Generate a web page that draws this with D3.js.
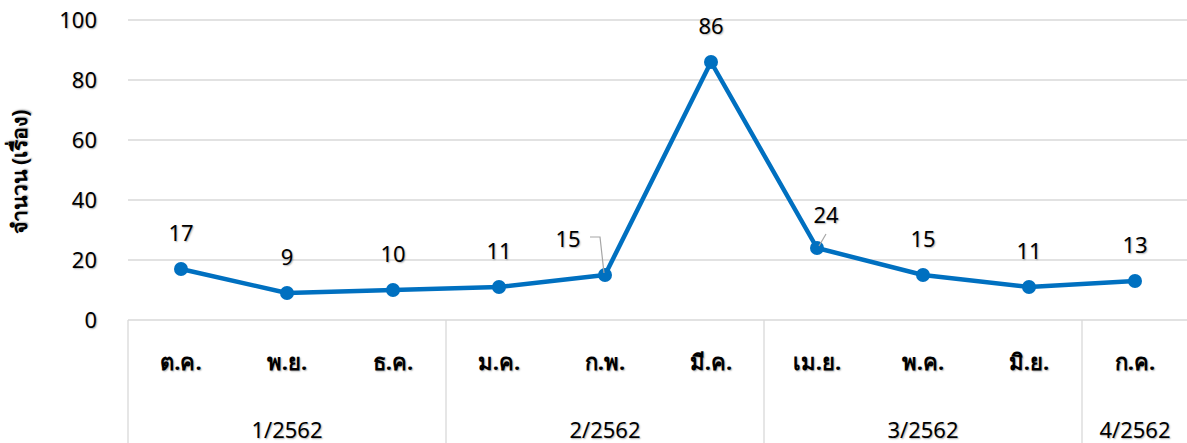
<!DOCTYPE html>
<html>
<head>
<meta charset="utf-8">
<script src="https://cdn.jsdelivr.net/npm/d3@7"></script>
<style>
  body { margin: 0; background: #fff; }
  text { font-family: Tahoma, "Noto Sans", "DejaVu Sans", sans-serif; fill: #000; text-shadow: 1px 1px 1.5px rgba(0,0,0,0.3); }
</style>
</head>
<body>
<div id="vis"></div>
<script>
const months = ["ต.ค.", "พ.ย.", "ธ.ค.", "ม.ค.", "ก.พ.", "มี.ค.", "เม.ย.", "พ.ค.", "มิ.ย.", "ก.ค."];
const quarters = ["1/2562", "1/2562", "1/2562", "2/2562", "2/2562", "2/2562", "3/2562", "3/2562", "3/2562", "4/2562"];
const counts = [17, 9, 10, 11, 15, 86, 24, 15, 11, 13];
const yTicks = [0, 20, 40, 60, 80, 100];

const W = 1187, H = 443;
const margin = { top: 20, right: -1, bottom: 123, left: 128 };
const width = W - margin.left - margin.right;
const height = H - margin.top - margin.bottom;

const svg = d3.select("#vis")
  .append("svg")
  .attr("width", W)
  .attr("height", H);

const g = svg.append("g")
  .attr("transform", `translate(${margin.left},${margin.top})`);

const x = d3.scaleBand()
  .domain(d3.range(months.length))
  .range([0, width]);

const y = d3.scaleLinear().domain([0, 100]).range([height, 0]);

// GRIDLINES
g.append("g")
  .selectAll("line")
  .data(yTicks)
  .enter()
  .append("line")
  .attr("x1", 0)
  .attr("x2", width)
  .attr("y1", d => y(d))
  .attr("y2", d => y(d))
  .attr("stroke", "#d9d9d9")
  .attr("stroke-width", 1.3);

// Y TICK LABELS
g.append("g")
  .selectAll("text")
  .data(yTicks)
  .enter()
  .append("text")
  .attr("x", -31)
  .attr("y", d => y(d))
  .attr("dy", "0.35em")
  .attr("text-anchor", "end")
  .attr("font-size", "22px")
  .text(d => d);

// Y TITLE
svg.append("text")
  .attr("transform", `translate(20, 172) rotate(-90)`)
  .attr("text-anchor", "middle")
  .attr("dy", "0.35em")
  .attr("font-size", "21px")
  .attr("font-weight", "bold")
  .text("จำนวน (เรื่อง)");

// CATEGORY AXIS
const groups = [];
quarters.forEach((q, i) => {
  const last = groups[groups.length - 1];
  if (last && last.name === q) last.end = i;
  else groups.push({ name: q, start: i, end: i });
});

const axis = g.append("g").attr("transform", `translate(0,${height})`);

const bounds = [0, ...groups.map(d => d.end + 1)];
axis.selectAll("line.sep")
  .data(bounds)
  .enter()
  .append("line")
  .attr("class", "sep")
  .attr("x1", d => d < months.length ? x(d) : width)
  .attr("x2", d => d < months.length ? x(d) : width)
  .attr("y1", 0)
  .attr("y2", H - margin.top - height)
  .attr("stroke", "#d9d9d9")
  .attr("stroke-width", 1.3);

axis.selectAll("text.month")
  .data(months)
  .enter()
  .append("text")
  .attr("class", "month")
  .attr("x", (d, i) => x(i) + x.bandwidth() / 2)
  .attr("y", 42)
  .attr("dy", "0.35em")
  .attr("text-anchor", "middle")
  .attr("font-size", "22px")
  .attr("font-weight", "bold")
  .text(d => d);

axis.selectAll("text.group")
  .data(groups)
  .enter()
  .append("text")
  .attr("class", "group")
  .attr("x", d => (x(d.start) + x(d.end) + x.bandwidth()) / 2)
  .attr("y", 110)
  .attr("dy", "0.35em")
  .attr("text-anchor", "middle")
  .attr("font-size", "22px")
  .text(d => d.name);

// LINE
const cx = i => x(i) + x.bandwidth() / 2;
const line = d3.line()
  .x((d, i) => cx(i))
  .y(d => y(d));

g.append("path")
  .datum(counts)
  .attr("fill", "none")
  .attr("stroke", "#0070c0")
  .attr("stroke-width", 4.5)
  .attr("stroke-linejoin", "round")
  .attr("d", line);

g.selectAll("circle.pt")
  .data(counts)
  .enter()
  .append("circle")
  .attr("class", "pt")
  .attr("cx", (d, i) => cx(i))
  .attr("cy", d => y(d))
  .attr("r", 7)
  .attr("fill", "#0070c0");

// DATA LABELS (two moved off their points with leader lines)
const labelShift = { 4: [-37, 0], 6: [9, 3] };
g.selectAll("text.lbl")
  .data(counts)
  .enter()
  .append("text")
  .attr("class", "lbl")
  .attr("x", (d, i) => cx(i) + (labelShift[i] ? labelShift[i][0] : 0))
  .attr("y", (d, i) => y(d) - 36 + (labelShift[i] ? labelShift[i][1] : 0))
  .attr("dy", "0.35em")
  .attr("text-anchor", "middle")
  .attr("font-size", "22px")
  .text(d => d);

// leader lines
g.append("path")
  .attr("d", `M${cx(4) - 15},${y(counts[4]) - 38} H${cx(4) - 5} L${cx(4) - 1},${y(counts[4]) - 2}`)
  .attr("fill", "none")
  .attr("stroke", "#a6a6a6")
  .attr("stroke-width", 1.2);
g.append("path")
  .attr("d", `M${cx(6) + 2},${y(counts[6]) - 2} L${cx(6) + 9},${y(counts[6]) - 14}`)
  .attr("fill", "none")
  .attr("stroke", "#a6a6a6")
  .attr("stroke-width", 1.2);
</script>
</body>
</html>
